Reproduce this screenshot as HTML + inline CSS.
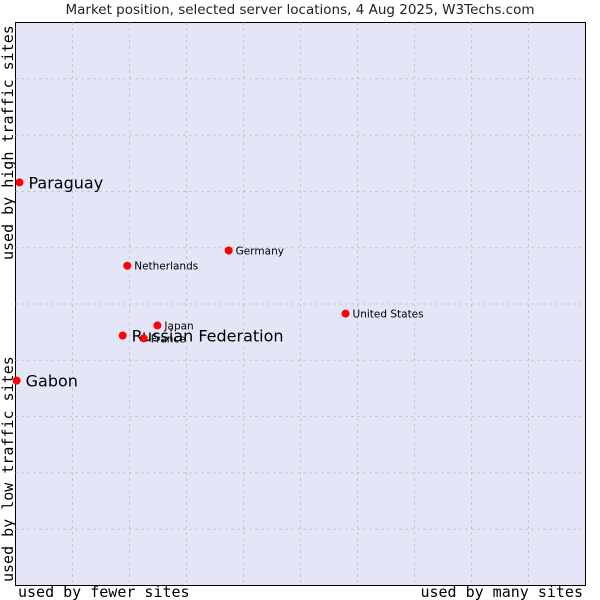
<!DOCTYPE html>
<html><head><meta charset="utf-8"><style>
body{margin:0;background:#fff;width:600px;height:600px;overflow:hidden}
svg{display:block}
</style></head><body>
<svg id="chart" width="600" height="600" xmlns="http://www.w3.org/2000/svg">
<text x="300" y="14" text-anchor="middle" font-family="DejaVu Sans, sans-serif" font-size="13.5" fill="#222">Market position, selected server locations, 4 Aug 2025, W3Techs.com</text>
<rect x="15.5" y="22.5" width="570" height="563" fill="#e5e5f8" stroke="#000" stroke-width="1"/>
<g id="grid"></g>
<text x="18" y="597" font-family="DejaVu Sans Mono, monospace" font-size="15" fill="#000">used by fewer sites</text>
<text x="583" y="597" text-anchor="end" font-family="DejaVu Sans Mono, monospace" font-size="15" fill="#000">used by many sites</text>
<text transform="translate(13,582) rotate(-90)" font-family="DejaVu Sans Mono, monospace" font-size="15" fill="#000">used by low traffic sites</text>
<text transform="translate(13,260) rotate(-90)" font-family="DejaVu Sans Mono, monospace" font-size="15" fill="#000">used by high traffic sites</text>
<g id="points"></g>
</svg>
<script>
const names = ["Paraguay","Gabon","Russian Federation","Netherlands","Germany","Japan","France","United States"];
const xValues = [0.7,0.2,18.8,19.6,37.4,24.9,22.5,57.9];
const yValues = [71.6,36.4,44.4,56.8,59.5,46.2,43.9,48.3];
const bigLabel = [true,true,true,false,false,false,false,false];
const NS="http://www.w3.org/2000/svg";
const L=15.5,T=22.5,W=570,H=563;
function xs(v){return L+v/100*W;}
function ys(v){return T+H-v/100*H;}
const grid=document.getElementById('grid');
for(let i=1;i<10;i++){
  const v=document.createElementNS(NS,'line');
  
  
  v.setAttribute('x1',xs(i*10));v.setAttribute('x2',xs(i*10));v.setAttribute('y1',T);v.setAttribute('y2',T+H);
  v.setAttribute('stroke','#bbbbbb');v.setAttribute('stroke-dasharray','2,4');grid.appendChild(v);
  const h=document.createElementNS(NS,'line');
  
  
  h.setAttribute('y1',ys(i*10));h.setAttribute('y2',ys(i*10));h.setAttribute('x1',L);h.setAttribute('x2',L+W);
  h.setAttribute('stroke','#bbbbbb');h.setAttribute('stroke-dasharray','2,4');grid.appendChild(h);
}
const pts=document.getElementById('points');
names.forEach((n,i)=>{
  const x=xs(xValues[i]),y=ys(yValues[i]);
  const g=document.createElementNS(NS,'g');
  
  
  const c=document.createElementNS(NS,'circle');
  
  
  c.setAttribute('cx',x);c.setAttribute('cy',y);c.setAttribute('r',4);c.setAttribute('fill','#f00');
  g.appendChild(c);
  const t=document.createElementNS(NS,'text');
  
  
  t.setAttribute('x',x+(bigLabel[i]?9:7));t.setAttribute('y',y+(bigLabel[i]?6:4));
  t.setAttribute('font-family','DejaVu Sans, sans-serif');t.setAttribute('font-size',bigLabel[i]?16:10.5);t.setAttribute('fill','#000');
  t.textContent=n;g.appendChild(t);
  pts.appendChild(g);
});
</script>
</body></html>
